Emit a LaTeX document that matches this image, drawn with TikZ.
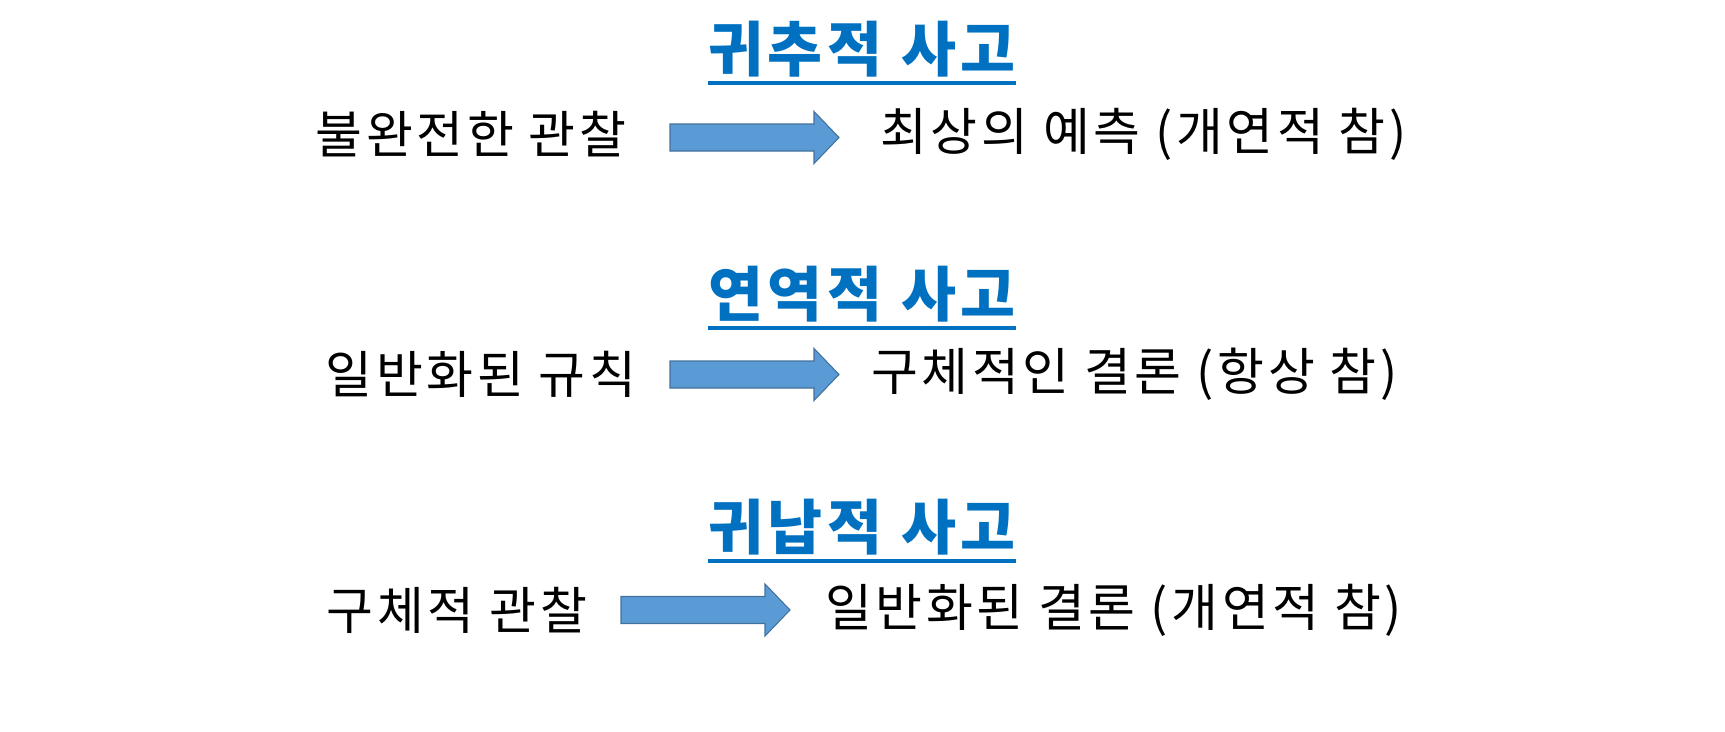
\documentclass[tikz,border=0pt]{standalone}
\usepackage{fontspec}
\usepackage{tikz}
\usetikzlibrary{positioning}
\newfontfamily\krfont{Noto Sans CJK KR}
\definecolor{titleblue}{HTML}{0070C0}
\definecolor{arrowfill}{HTML}{5B9BD5}
\definecolor{arrowline}{HTML}{41719C}
\newcommand\titleline[1]{\setbox0\hbox{#1}\rlap{\rule[-8pt]{\wd0}{2.4pt}}\box0}

\begin{document}
\begin{tikzpicture}[x=0.02cm, y=-0.02cm,
    title/.style={font=\krfont\addfontfeature{LetterSpace=8}\fontsize{34}{34}\selectfont\bfseries, text=titleblue, inner sep=0pt},
    phrase/.style={font=\krfont\addfontfeature{LetterSpace=7}\fontsize{29}{29}\selectfont, inner sep=0pt},
    bigarrow/.pic={
      \path[draw=arrowline, fill=arrowfill, line width=0.6pt]
        (0,-13.5) -- (144,-13.5) -- (144,-26) -- (169,0) -- (144,26)
        -- (144,13.5) -- (0,13.5) -- cycle;
      \coordinate (-tail) at (0,0); \coordinate (-tip) at (169,0);
    }]
  \useasboundingbox (0,0) rectangle (1725,731);
  % abductive
  \node[title] (t1) at (862,53) {\titleline{귀추적 사고}};
  \node[phrase] (l1) at (471,134) {불완전한 관찰};
  \pic (a1) at (670,137.5) {bigarrow};
  \node[phrase, anchor=west] (r1) at (880,134) {최상의 예측 (개연적 참)};
  % deductive
  \node[title] (t2) at (862,298) {\titleline{연역적 사고}};
  \node[phrase] (l2) at (481,374) {일반화된 규칙};
  \pic (a2) at (670,374.5) {bigarrow};
  \node[phrase, anchor=west] (r2) at (871,374) {구체적인 결론 (항상 참)};
  % inductive
  \node[title] (t3) at (862,531) {\titleline{귀납적 사고}};
  \node[phrase] (l3) at (457,610) {구체적 관찰};
  \pic (a3) at (621,610) {bigarrow};
  \node[phrase, anchor=west] (r3) at (825,610) {일반화된 결론 (개연적 참)};
\end{tikzpicture}
\end{document}
